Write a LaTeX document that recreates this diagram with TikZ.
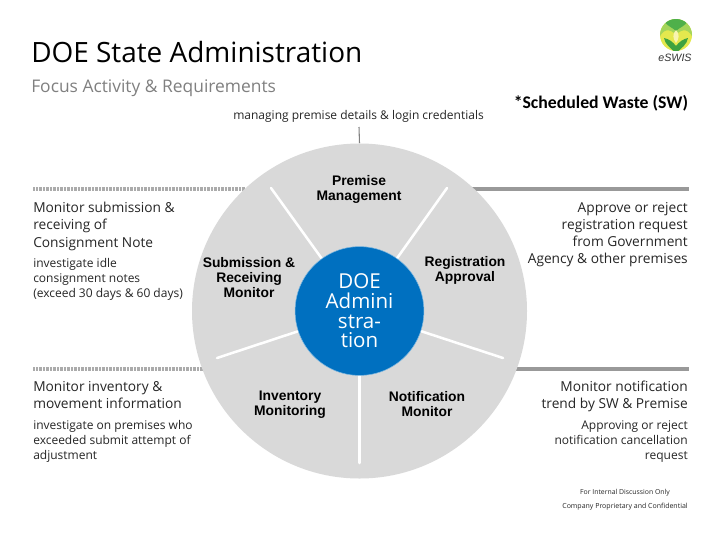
\documentclass[tikz,border=0pt]{standalone}
\usepackage{fontspec}
\setmainfont{Open Sans}
\newfontfamily\boldsans{Liberation Sans}[BoldFont={Liberation Sans Bold}]
\newfontfamily\swfont{Carlito}[BoldFont={Carlito Bold}]
\definecolor{wheelgrey}{HTML}{D9D9D9}
\definecolor{rulegrey}{HTML}{999999}
\definecolor{dotgrey}{HTML}{ABABAB}
\definecolor{hubblue}{HTML}{0070C0}
\definecolor{hubring}{HTML}{7FB8E0}
\definecolor{txt}{HTML}{262626}
\definecolor{subgrey}{HTML}{808080}
\definecolor{logoyellow}{HTML}{E4E84E}
\definecolor{logolight}{HTML}{A5D55A}
\definecolor{logotop}{HTML}{4FB04A}
\definecolor{logoleaf}{HTML}{3FA23F}
\definecolor{logopale}{HTML}{F8F4B0}
\tikzset{
  x=0.75pt,y=-0.75pt,
  lbl/.style={inner sep=0pt,text=txt,font=\fontsize{9pt}{11.25pt}\selectfont,align=left},
  head/.style={inner sep=0pt,text=txt,font=\fontsize{10.3pt}{12.9pt}\selectfont},
  seg/.style={inner sep=0pt,text=black,align=center,font=\boldsans\bfseries\fontsize{10.4pt}{11.25pt}\selectfont},
  spoke/.style={draw=white,line width=1.9pt,line cap=round},
  solidrule/.style={draw=rulegrey,line width=2.3pt},
  dotrule/.style={draw=dotgrey,line width=2.3pt,dash pattern=on 0.75pt off 0.3pt}
}
\begin{document}
\begin{tikzpicture}
\useasboundingbox (0,0) rectangle (720,540);
\fill[white] (0,0) rectangle (720,540);
% rules
\coordinate (ltA) at (33,189); \coordinate (ltB) at (245,189);
\coordinate (lbA) at (33,369); \coordinate (lbB) at (205,369);
\coordinate (rtA) at (470,189); \coordinate (rtB) at (688.5,189);
\coordinate (rbA) at (510,369); \coordinate (rbB) at (688.5,369);
\coordinate (tick) at (359,127);
\draw[dotrule] (ltA) -- (ltB);
\draw[dotrule] (lbA) -- (lbB);
\draw[solidrule] (rtA) -- (rtB);
\draw[solidrule] (rbA) -- (rbB);
% wheel
\node[circle,fill=wheelgrey,minimum size=251.25pt,inner sep=0pt] (wheel) at (359.5,311) {};
\draw[draw=subgrey,line width=0.8pt] (tick) -- (wheel.north);
\coordinate (s1) at (271,188); \coordinate (s2) at (447,188);
\coordinate (s3) at (503,358); \coordinate (s4) at (217,358); \coordinate (s5) at (359.5,463);
\node[circle,minimum size=97pt,inner sep=0pt] (hubc) at (359.5,311) {};
\draw[spoke] (s1) -- (hubc);
\draw[spoke] (s2) -- (hubc);
\draw[spoke] (s3) -- (hubc);
\draw[spoke] (s4) -- (hubc);
\draw[spoke] (s5) -- (hubc);
\node[circle,fill=hubblue,draw=hubring,line width=0.4pt,minimum size=96.6pt,inner sep=0pt,text width=70pt,align=center,text=white,font=\fontsize{15.4pt}{14.7pt}\selectfont] (hub) at (359.5,311) {DOE\\Admini\\stra-\\tion};
% segment labels
\node[seg] (n1) at (359,189.2) {Premise\\Management};
\node[seg] (n2) at (249,277.7) {Submission \&\\Receiving\\Monitor};
\node[seg] (n3) at (465,270.2) {Registration\\Approval};
\node[seg] (n4) at (290,404.2) {Inventory\\Monitoring};
\node[seg] (n5) at (427,404.2) {Notification\\Monitor};
% title
\node[anchor=west,inner sep=0pt,text=black,font=\fontsize{20.95pt}{24pt}\selectfont] (title) at (31,52) {DOE State Administration};
\node[anchor=west,inner sep=0pt,text=subgrey,font=\fontsize{13.05pt}{15pt}\selectfont] (sub) at (31,88.5) {Focus Activity \& Requirements};
\node[anchor=west,lbl] (cap) at (233,116.3) {managing premise details \& login credentials};
\node[anchor=west,inner sep=0pt,text=black,font=\swfont\bfseries\fontsize{13.3pt}{15pt}\selectfont] (sw) at (513.5,103) {*Scheduled Waste (SW)};
% left
\node[anchor=north west,head,align=left] (l1) at (33,202) {Monitor submission \&\\receiving of\\Consignment Note};
\node[anchor=north west,lbl] (l2) at (33,258) {investigate idle\\consignment notes\\(exceed 30 days \& 60 days)};
\node[anchor=north west,head,align=left] (l3) at (33,381) {Monitor inventory \&\\movement information};
\node[anchor=north west,lbl] (l4) at (33,420.5) {investigate on premises who\\exceeded submit attempt of\\adjustment};
% right
\node[anchor=north east,head,align=right] (r1) at (688,202) {Approve or reject\\registration request\\from Government\\Agency \& other premises};
\node[anchor=north east,head,align=right] (r3) at (688,381) {Monitor notification\\trend by SW \& Premise};
\node[anchor=north east,lbl,align=right] (r4) at (688,420.5) {Approving or reject\\notification cancellation\\request};
\node[anchor=center,inner sep=0pt,text=txt,font=\fontsize{5.15pt}{6pt}\selectfont] (f1) at (625,493) {For Internal Discussion Only};
\node[anchor=center,inner sep=0pt,text=txt,font=\fontsize{5.25pt}{6pt}\selectfont] (f2) at (625,507) {Company Proprietary and Confidential};
% logo
\begin{scope}
\clip (676,35) circle (16);
\fill[logoyellow] (660,19) rectangle (692,51);
\fill[logolight] (658,41) .. controls (662,28) and (670,28) .. (676,35) .. controls (682,28) and (690,28) .. (694,41) -- (694,15) -- (658,15) -- cycle;
\fill[logotop] (664,21) .. controls (668,27) and (672,27) .. (676,31) .. controls (680,27) and (684,27) .. (688,21) -- (688,15) -- (664,15) -- cycle;
\fill[logopale] (676,30) .. controls (680,34) and (679,39) .. (676,43) .. controls (673,39) and (672,34) .. (676,30) -- cycle;
\fill[logoleaf] (664,38) .. controls (669,39) and (673,42) .. (676,46) .. controls (679,42) and (683,39) .. (688,38) .. controls (687,44) and (682,48) .. (676,53) .. controls (670,48) and (665,44) .. (664,38) -- cycle;
\end{scope}
\node[anchor=center,inner sep=0pt,text=black!80,font=\boldsans\itshape\fontsize{8pt}{9pt}\selectfont] (logo) at (675,57.5) {eSWIS};
\end{tikzpicture}
\end{document}
